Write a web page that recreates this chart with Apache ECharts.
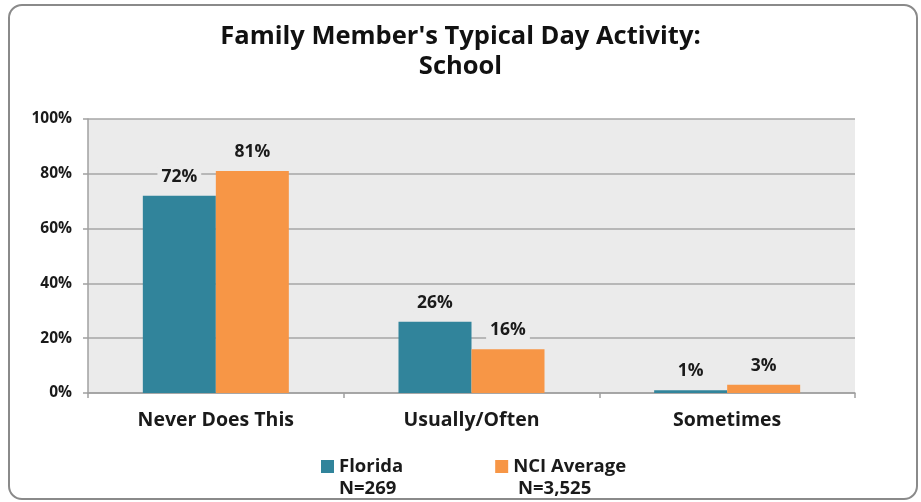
<!DOCTYPE html>
<html><head><meta charset="utf-8">
<script src="https://cdn.jsdelivr.net/npm/echarts@6/dist/echarts.min.js"></script>
<style>html,body{margin:0;padding:0;background:#fff}#c{width:921px;height:502px}</style>
</head><body><div id="c"></div>
<script>
const titleText = "Family Member's Typical Day Activity:\nSchool";
const categories = ["Never Does This", "Usually/Often", "Sometimes"];
const seriesNames = ["Florida", "NCI Average"];
const floridaValues = [72, 26, 1];
const nciValues = [81, 16, 3];
const sampleSizes = ["N=269", "N=3,525"];
const yTicks = [0, 20, 40, 60, 80, 100];

const FONT = "'Open Sans', Lato, sans-serif";
const chart = echarts.init(document.getElementById('c'));
const labelCfg = {
  show: true, position: 'top', distance: 10,
  formatter: p => p.value + '%',
  fontFamily: FONT, fontWeight: 'bold', fontSize: 17.5, color: '#1a1a1a',
  backgroundColor: '#ebebeb', padding: [0, 4]
};
chart.setOption({
  animation: false,
  title: {
    text: titleText, left: 'center', top: 17,
    textStyle: { fontFamily: FONT, fontWeight: 'bold', fontSize: 25.5, color: '#111', lineHeight: 30 }
  },
  graphic: [
    { type: 'rect', shape: { x: 9, y: 5, width: 908, height: 494, r: 13 },
      style: { fill: 'none', stroke: '#8a8a8a', lineWidth: 2 }, z: -1 },
    { type: 'text', left: 339, top: 479, style: { text: sampleSizes[0], font: 'bold 18.5px ' + FONT, fill: '#1a1a1a' } },
    { type: 'text', left: 518, top: 479, style: { text: sampleSizes[1], font: 'bold 18.5px ' + FONT, fill: '#1a1a1a' } }
  ],
  legend: {
    data: seriesNames, left: 316, top: 452, itemGap: 92,
    itemWidth: 13, itemHeight: 13, icon: 'rect',
    textStyle: { fontFamily: FONT, fontWeight: 'bold', fontSize: 18.5, color: '#1a1a1a' }
  },
  grid: { left: 88, right: 66, top: 119, bottom: 109, backgroundColor: '#ebebeb', show: true, borderWidth: 0 },
  xAxis: {
    type: 'category', data: categories,
    axisLine: { lineStyle: { color: '#a0a0a0', width: 1.5 } },
    axisTick: { show: true, length: 5, lineStyle: { color: '#a0a0a0', width: 1.5 } },
    axisLabel: { fontFamily: FONT, fontWeight: 'bold', fontSize: 19.5, color: '#1a1a1a', margin: 17 }
  },
  yAxis: {
    type: 'value', min: yTicks[0], max: yTicks[yTicks.length - 1], interval: 20,
    axisLine: { show: true, lineStyle: { color: '#a0a0a0', width: 1.5 } },
    axisTick: { show: true, length: 5, lineStyle: { color: '#a0a0a0', width: 1.5 } },
    splitLine: { lineStyle: { color: '#a6a6a6', width: 1.5 } },
    axisLabel: { formatter: '{value}%', fontFamily: FONT, fontWeight: 'bold', fontSize: 15.5, color: '#1a1a1a', margin: 16 }
  },
  series: [
    { name: seriesNames[0], type: 'bar', data: floridaValues, barWidth: 73, barGap: '0%',
      itemStyle: { color: '#31849b' }, label: labelCfg },
    { name: seriesNames[1], type: 'bar', data: nciValues, barWidth: 73,
      itemStyle: { color: '#f79646' }, label: labelCfg }
  ]
});
</script></body></html>
